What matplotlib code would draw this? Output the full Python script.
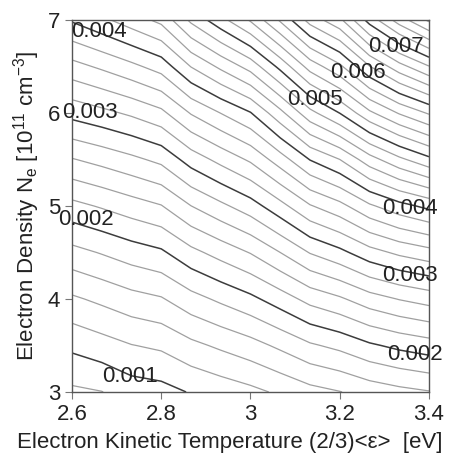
import matplotlib
matplotlib.use("Agg")
import matplotlib.pyplot as plt
import numpy as np

plt.rcParams['font.family'] = ['Liberation Sans', 'DejaVu Sans']
plt.rcParams['mathtext.fontset'] = 'custom'
plt.rcParams['mathtext.rm'] = 'Liberation Sans'

# grid: T = (2/3)<eps>, eps = 3.9 ... 5.1 eV
temperature = [2.6, 2.6667, 2.7333, 2.8, 2.8667, 2.9333, 3.0,
               3.0667, 3.1333, 3.2, 3.2667, 3.3333, 3.4]
density = [3.0, 3.5, 4.0, 4.5, 5.0, 5.5, 6.0, 6.5, 7.0]

# contoured quantity, in units of 1e-3 (rows = density)
rate = [
    [0.760, 0.795, 0.897, 0.929, 1.014, 1.080, 1.146, 1.234, 1.332, 1.393, 1.481, 1.542, 1.588],
    [1.046, 1.118, 1.193, 1.236, 1.349, 1.436, 1.524, 1.641, 1.772, 1.852, 1.969, 2.049, 2.109],
    [1.368, 1.445, 1.528, 1.582, 1.727, 1.839, 1.951, 2.100, 2.266, 2.370, 2.513, 2.609, 2.681],
    [1.734, 1.814, 1.900, 1.967, 2.143, 2.276, 2.410, 2.600, 2.811, 2.945, 3.122, 3.241, 3.326],
    [2.141, 2.221, 2.308, 2.390, 2.598, 2.754, 2.910, 3.133, 3.383, 3.537, 3.767, 3.930, 4.054],
    [2.588, 2.667, 2.753, 2.851, 3.088, 3.262, 3.433, 3.704, 4.008, 4.199, 4.515, 4.753, 4.948],
    [3.068, 3.146, 3.235, 3.350, 3.615, 3.804, 3.989, 4.341, 4.736, 5.004, 5.357, 5.618, 5.824],
    [3.531, 3.635, 3.751, 3.884, 4.207, 4.444, 4.678, 5.058, 5.483, 5.756, 6.191, 6.523, 6.791],
    [4.022, 4.155, 4.302, 4.454, 4.843, 5.133, 5.424, 5.829, 6.279, 6.552, 7.082, 7.497, 7.840],
]

major_levels = [1, 2, 3, 4, 5, 6, 7]
label_text = ["0.004", "0.003", "0.002", "0.001", "0.002", "0.003",
              "0.004", "0.005", "0.006", "0.007"]
label_T = [2.661, 2.640, 2.631, 2.730, 3.369, 3.357, 3.357, 3.145, 3.241, 3.326]
label_N = [6.88, 6.00, 4.86, 3.17, 3.40, 4.25, 4.97, 6.14, 6.43, 6.71]

xticks = [2.6, 2.8, 3.0, 3.2, 3.4]
xtick_labels = ["2.6", "2.8", "3", "3.2", "3.4"]
yticks = [3, 4, 5, 6, 7]

T, N = np.meshgrid(temperature, density)
Z = np.array(rate)

all_levels = np.round(np.arange(0.8, 7.9, 0.2), 1)
minor_levels = [lv for lv in all_levels if abs(lv - round(lv)) > 1e-6]

fig = plt.figure(figsize=(4.5, 4.54), dpi=100)
ax = fig.add_axes([0.16, 0.1366, 0.7933, 0.8194])

ax.contour(T, N, Z, levels=minor_levels, colors='#a0a0a0', linewidths=0.9)
ax.contour(T, N, Z, levels=major_levels, colors='#3c3c3c', linewidths=1.1)

for txt, tx, ny in zip(label_text, label_T, label_N):
    ax.text(tx, ny, txt, ha='center', va='center', fontsize=16,
            color='#222222', clip_on=False)

ax.set_xlim(2.6, 3.4)
ax.set_ylim(3, 7)
ax.set_xticks(xticks)
ax.set_xticklabels(xtick_labels)
ax.set_yticks(yticks)
ax.tick_params(direction='out', length=5, width=0.8, color='#777777',
               labelcolor='#222222', labelsize=16, pad=3.5)
for sp in ax.spines.values():
    sp.set_color('#555555')
    sp.set_linewidth(1.0)

ax.set_xlabel('Electron Kinetic Temperature (2/3)<ε>  [eV]', fontsize=16,
              color='#222222')
ax.xaxis.set_label_coords(0.443, -0.108)
ax.set_ylabel(r'Electron Density N$_\mathregular{e}$ [10$^\mathregular{11}$ cm$^\mathregular{-3}$]',
              fontsize=16, color='#222222', labelpad=4)

fig.savefig('out.png', dpi=100)
